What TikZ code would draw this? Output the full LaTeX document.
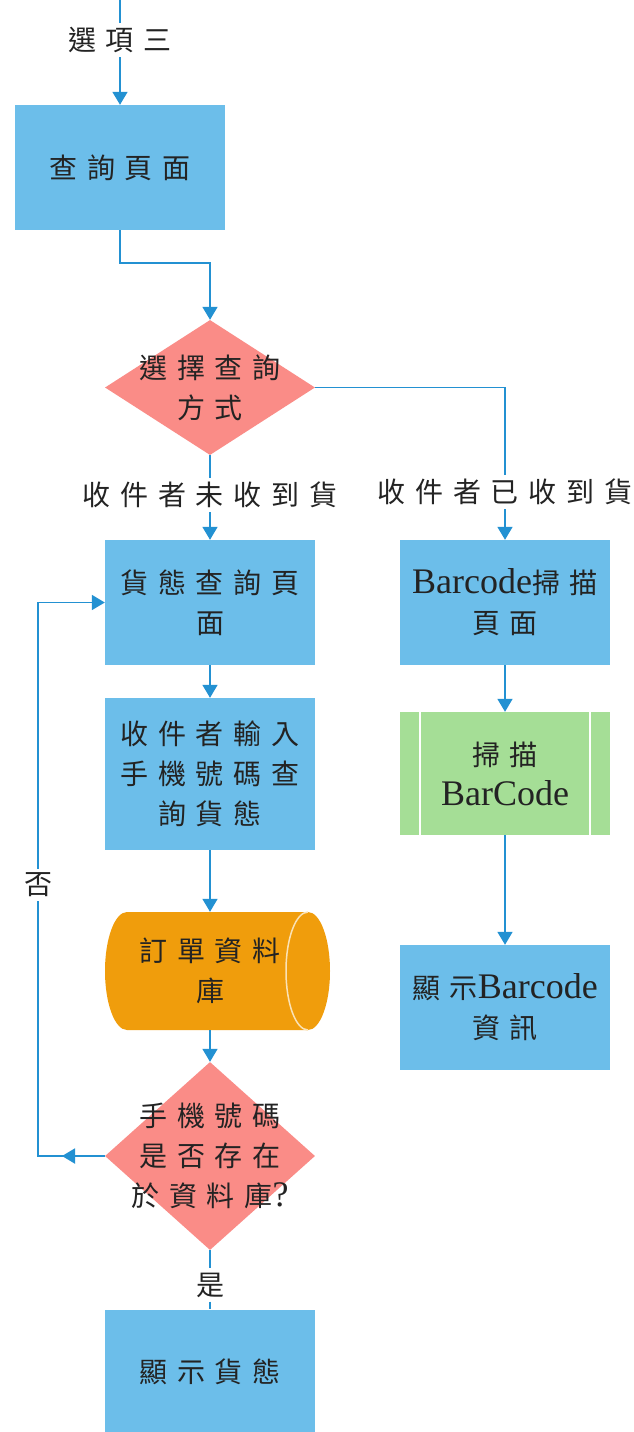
\documentclass[tikz,border=0pt]{standalone}
\usepackage{fontspec}
\setmainfont{Liberation Serif}
\newfontfamily\cjk[LetterSpace=35]{Noto Sans CJK TC}
\usetikzlibrary{shapes.geometric,arrows.meta,calc}
\definecolor{boxblue}{RGB}{108,190,234}
\definecolor{diapink}{RGB}{250,140,135}
\definecolor{procgreen}{RGB}{165,222,150}
\definecolor{dborange}{RGB}{240,157,12}
\definecolor{lineblue}{RGB}{35,145,210}
\definecolor{txt}{RGB}{35,35,35}
\newcommand\lt[1]{{\rmfamily\fontsize{36}{40}\selectfont #1}}
\tikzset{
  base/.style={font=\fontsize{28}{40}\selectfont\cjk, text=txt, align=center, inner sep=0pt},
  bluebox/.style={base, rectangle, fill=boxblue, minimum width=210pt, minimum height=125pt},
  dia/.style={diamond, fill=diapink, inner sep=0pt, minimum width=210pt},
  lbl/.style={base, inner sep=4pt},
  greenproc/.style={base, rectangle, fill=procgreen, minimum width=210pt, minimum height=123pt,
    path picture={
      \draw[white, line width=1.5pt] ([xshift=20pt]path picture bounding box.north west) -- ([xshift=20pt]path picture bounding box.south west);
      \draw[white, line width=1.5pt] ([xshift=-20pt]path picture bounding box.north east) -- ([xshift=-20pt]path picture bounding box.south east);
    }},
  dbbox/.style={base, rectangle, minimum width=210pt, minimum height=118pt},
  ln/.style={draw=lineblue, line width=1.8pt},
  arr/.style={ln, -{Triangle[width=15pt,length=13pt]}},
}
\begin{document}
\begin{tikzpicture}[x=1pt,y=-1pt]
\fill[white] (0,0) rectangle (633,1432);
\useasboundingbox (0,0) rectangle (633,1432);

% database cylinder (horizontal), drawn behind its node
\fill[dborange] (127,912) -- (308,912)
  arc[start angle=90, end angle=-90, x radius=22pt, y radius=59pt]
  -- (127,1030)
  arc[start angle=270, end angle=90, x radius=22pt, y radius=59pt] -- cycle;
\draw[white!70!dborange, line width=1.5pt] (308,912)
  arc[start angle=90, end angle=270, x radius=22pt, y radius=59pt];

\coordinate (top) at (120,0);
\node[lbl] (l3) at (120,40) {選項三};
\node[bluebox] (q1) at (120,167.5) {查詢頁面};
\node[dia, minimum height=135pt] (d1) at (210,387.5) {};
\node[base] at (d1) {選擇查詢\\方式};
\node[lbl] (lno) at (210,495) {收件者未收到貨};
\node[lbl] (lyes) at (505,492) {收件者已收到貨};
\node[bluebox] (q2) at (210,602.5) {貨態查詢頁\\面};
\node[bluebox] (b1) at (505,602.5) {\lt{Barcode}掃描\\頁面};
\node[bluebox, minimum height=152pt] (q3) at (210,774) {收件者輸入\\手機號碼查\\詢貨態};
\node[greenproc] (g1) at (505,773.5) {掃描\\\lt{BarCode}};
\node[dbbox] (cyl) at (210,971) {訂單資料\\庫};
\node[bluebox] (b3) at (505,1007.5) {顯示\lt{Barcode}\\資訊};
\node[dia, minimum height=188pt] (d2) at (210,1156) {};
\node[base] at (d2) {手機號碼\\是否存在\\於資料庫\lt{?}};
\node[lbl] (ly) at (210,1285) {是};
\node[bluebox] (q4) at (210,1372) {顯示貨態};
\node[lbl] (ln) at (38,885) {否};
\coordinate (lc) at (38,1156);
\coordinate (la) at (62,1156);

\draw[ln] (top) -- (l3.north);
\draw[arr] (l3.south) -- (q1.north);
\draw[arr] (q1.south) -- ++(0,33) -| (d1.north);
\draw[ln] (d1.south) -- (lno.north);
\draw[arr] (lno.south) -- (q2.north);
\draw[ln] (d1.east) -| (lyes.north);
\draw[arr] (lyes.south) -- (b1.north);
\draw[arr] (q2.south) -- (q3.north);
\draw[arr] (q3.south) -- (cyl.north);
\draw[arr] (cyl.south) -- (d2.north);
\draw[ln] (d2.south) -- (ly.north);
\draw[ln] (ly.south) -- (q4.north);
\draw[arr] (b1.south) -- (g1.north);
\draw[arr] (g1.south) -- (b3.north);
\draw[ln] (d2.west) -- (lc) -- (ln.south);
\draw[arr] (d2.west) -- (la);
\draw[arr] (ln.north) |- (q2.west);
\end{tikzpicture}
\end{document}
